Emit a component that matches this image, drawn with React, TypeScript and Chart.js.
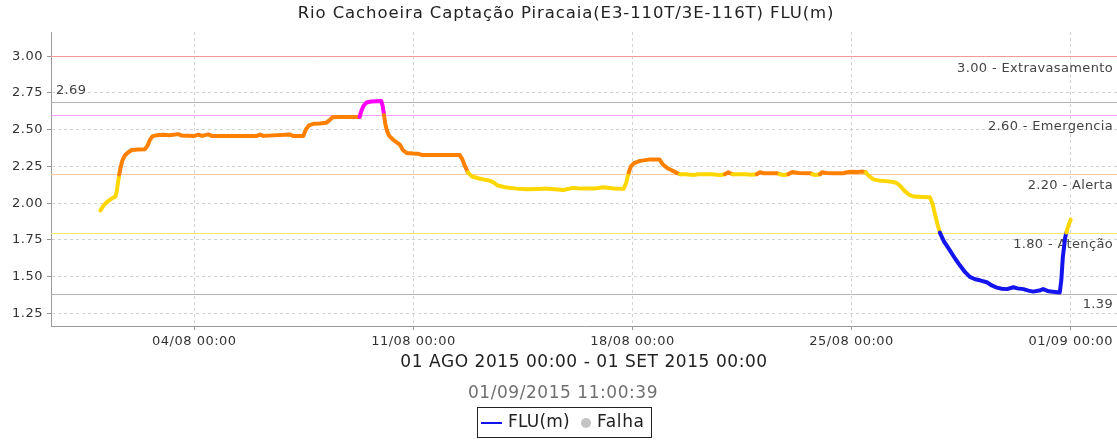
import React, { useEffect, useRef } from 'react';
import { Chart, registerables } from 'chart.js';

Chart.register(...registerables);

const FONT = '"DejaVu Sans", "Noto Sans", sans-serif';

// ---- data (days since 01/08/2015 00:00, level in m) ----
const days = [
  0.0, 0.1, 0.22, 0.35, 0.48, 0.52, 0.56, 0.6, 0.64, 0.7, 0.78, 0.88, 1.0, 1.2, 1.42, 1.5, 1.58, 1.66, 1.8, 2.0,
  2.2, 2.49, 2.6, 3.0, 3.13, 3.25, 3.45, 3.55, 4.2, 5.0, 5.1, 5.2, 6.06, 6.15, 6.48, 6.56, 6.66, 6.8, 7.0, 7.22,
  7.32, 7.42, 7.6, 8.0, 8.28, 8.34, 8.4, 8.5, 8.65, 8.83, 8.97, 9.02, 9.06, 9.1, 9.16, 9.22, 9.36, 9.5, 9.58, 9.66,
  9.78, 10.0, 10.16, 10.27, 10.6, 11.0, 11.48, 11.56, 11.64, 11.74, 11.86, 12.1, 12.45, 12.58, 12.7, 12.98, 13.3, 13.62, 14.0, 14.26,
  14.5, 14.79, 15.1, 15.4, 15.75, 16.07, 16.4, 16.72, 16.8, 16.88, 16.95, 17.05, 17.24, 17.56, 17.86, 17.98, 18.12, 18.25, 18.4, 18.52,
  18.7, 18.94, 19.1, 19.5, 19.8, 19.95, 20.01, 20.06, 20.11, 20.2, 20.6, 20.8, 20.97, 21.07, 21.2, 21.5, 21.61, 21.7, 21.85, 21.98,
  22.03, 22.1, 22.3, 22.67, 22.75, 22.85, 22.99, 23.05, 23.2, 23.4, 23.73, 23.85, 24.0, 24.2, 24.35, 24.45, 24.55, 24.7, 24.85, 25.1,
  25.33, 25.45, 25.55, 25.7, 25.85, 26.0, 26.25, 26.5, 26.58, 26.66, 26.74, 26.82, 26.95, 27.14, 27.3, 27.46, 27.62, 27.78, 27.95, 28.1,
  28.32, 28.48, 28.64, 28.8, 28.96, 29.17, 29.3, 29.49, 29.65, 29.8, 30.0, 30.12, 30.3, 30.5, 30.65, 30.7, 30.75, 30.82, 30.86, 30.93,
  31.0,
];
const levels = [
  1.95, 1.985, 2.01, 2.03, 2.045, 2.08, 2.14, 2.195, 2.24, 2.29, 2.325, 2.345, 2.362, 2.365, 2.367, 2.39, 2.43, 2.455, 2.463, 2.465,
  2.462, 2.47, 2.46, 2.458, 2.466, 2.458, 2.468, 2.458, 2.458, 2.458, 2.467, 2.458, 2.467, 2.458, 2.458, 2.5, 2.53, 2.54, 2.543, 2.548,
  2.565, 2.585, 2.587, 2.587, 2.587, 2.63, 2.66, 2.685, 2.692, 2.694, 2.696, 2.66, 2.6, 2.54, 2.49, 2.46, 2.43, 2.408, 2.395, 2.362,
  2.342, 2.338, 2.336, 2.328, 2.327, 2.327, 2.327, 2.3, 2.255, 2.21, 2.183, 2.168, 2.152, 2.138, 2.12, 2.106, 2.099, 2.095, 2.097, 2.099,
  2.095, 2.09, 2.104, 2.099, 2.099, 2.108, 2.1, 2.098, 2.14, 2.21, 2.25, 2.272, 2.288, 2.298, 2.298, 2.26, 2.238, 2.224, 2.208, 2.197,
  2.197, 2.191, 2.197, 2.197, 2.192, 2.197, 2.204, 2.21, 2.204, 2.197, 2.197, 2.193, 2.197, 2.21, 2.204, 2.204, 2.204, 2.197, 2.192, 2.197,
  2.204, 2.212, 2.205, 2.204, 2.197, 2.192, 2.197, 2.21, 2.205, 2.203, 2.204, 2.21, 2.214, 2.212, 2.215, 2.21, 2.185, 2.162, 2.155, 2.15,
  2.144, 2.136, 2.118, 2.082, 2.055, 2.045, 2.042, 2.04, 2.0, 1.93, 1.86, 1.8, 1.74, 1.679, 1.625, 1.577, 1.532, 1.498, 1.482, 1.475,
  1.462, 1.44, 1.425, 1.418, 1.415, 1.428, 1.42, 1.415, 1.405, 1.398, 1.405, 1.415, 1.4, 1.396, 1.392, 1.475, 1.634, 1.76, 1.8, 1.85,
  1.888,
];

const xTickDays = [3, 10, 17, 24, 31];
const xTickLabels = ['04/08 00:00', '11/08 00:00', '18/08 00:00', '25/08 00:00', '01/09 00:00'];
const yTicks = [1.25, 1.5, 1.75, 2.0, 2.25, 2.5, 2.75, 3.0];
const xRange = [-1.58, 32.48];
const yRange = [1.164, 3.165];

const thresholdValues = [3.0, 2.6, 2.2, 1.8];
const thresholdNames = ['Extravasamento', 'Emergencia', 'Alerta', 'Atenção'];
const thresholdLineColors = ['#f29a9a', '#ff9dff', '#ffcb9c', '#ffe96a'];
const maxLevel = 2.69;
const maxLabel = '2.69';
const minLevel = 1.385;
const minLabel = '1.39';

const titleText = 'Rio Cachoeira Captação Piracaia(E3-110T/3E-116T) FLU(m)';
const periodText = '01 AGO 2015 00:00 - 01 SET 2015 00:00';
const updatedText = '01/09/2015 11:00:39';
const seriesName = 'FLU(m)';
const failName = 'Falha';

function levelColor(v: number): string {
  if (v > 2.6) return '#ff00ff';
  if (v >= 2.2) return '#ff8000';
  if (v >= 1.8) return '#ffd700';
  return '#1414ee';
}

function spacing(ctx: any, px: number) {
  try {
    ctx.letterSpacing = `${px}px`;
  } catch (e) {
    /* ignore */
  }
}

const overlayPlugin = {
  id: 'overlay',
  beforeUpdate(chart: any) {
    spacing(chart.ctx, 0.5);
  },
  beforeDraw(chart: any) {
    spacing(chart.ctx, 0.5);
  },
  beforeDatasetsDraw(chart: any) {
    const { ctx, chartArea: a, scales } = chart;
    const y = scales.y;
    ctx.save();
    ctx.beginPath();
    ctx.rect(a.left, a.top, a.right - a.left, a.bottom - a.top);
    ctx.clip();
    const lines: { v: number; c: string }[] = thresholdValues.map((v, i) => ({ v, c: thresholdLineColors[i] }));
    lines.push({ v: maxLevel, c: '#b4b4b4' });
    lines.push({ v: minLevel, c: '#b4b4b4' });
    ctx.lineWidth = 1;
    for (const l of lines) {
      const py = Math.round(y.getPixelForValue(l.v)) + 0.5;
      ctx.strokeStyle = l.c;
      ctx.beginPath();
      ctx.moveTo(a.left, py);
      ctx.lineTo(a.right, py);
      ctx.stroke();
    }
    spacing(ctx, 0.35);
    ctx.font = `13px ${FONT}`;
    ctx.fillStyle = '#444';
    ctx.textBaseline = 'middle';
    ctx.textAlign = 'right';
    thresholdValues.forEach((v, i) => {
      ctx.fillText(`${v.toFixed(2)} - ${thresholdNames[i]}`, a.right - 4, y.getPixelForValue(v) + 12);
    });
    ctx.fillText(minLabel, a.right - 4, y.getPixelForValue(minLevel) + 11);
    ctx.textAlign = 'left';
    ctx.fillText(maxLabel, a.left + 5, y.getPixelForValue(maxLevel) - 11);
    ctx.restore();
  },
  afterDraw(chart: any) {
    const { ctx, chartArea: a } = chart;
    ctx.save();
    ctx.textBaseline = 'middle';
    ctx.textAlign = 'center';
    ctx.fillStyle = '#222';
    spacing(ctx, 0.9);
    ctx.font = `16.5px ${FONT}`;
    ctx.fillText(titleText, 566, 14);
    spacing(ctx, 0.55);
    ctx.font = `17px ${FONT}`;
    ctx.fillText(periodText, (a.left + a.right) / 2, 363);
    ctx.fillStyle = '#707070';
    ctx.fillText(updatedText, 563, 394);
    // legend box
    ctx.strokeStyle = '#222';
    ctx.lineWidth = 1;
    ctx.strokeRect(477.5, 407.5, 174, 30);
    ctx.strokeStyle = '#1414ee';
    ctx.lineWidth = 2;
    ctx.beginPath();
    ctx.moveTo(481, 423);
    ctx.lineTo(502, 423);
    ctx.stroke();
    spacing(ctx, 0.2);
    ctx.fillStyle = '#222';
    ctx.textAlign = 'left';
    ctx.fillText(seriesName, 508, 423);
    ctx.fillStyle = '#c4c4c4';
    ctx.beginPath();
    ctx.arc(586, 423, 5, 0, Math.PI * 2);
    ctx.fill();
    spacing(ctx, 0.6);
    ctx.fillStyle = '#222';
    ctx.fillText(failName, 597, 423);
    ctx.restore();
  },
};

export default function App() {
  const ref = useRef<HTMLCanvasElement | null>(null);
  useEffect(() => {
    if (!ref.current) return;
    const chart = new Chart(ref.current, {
      type: 'line',
      data: {
        datasets: [
          {
            label: seriesName,
            data: days.map((d, i) => ({ x: d, y: levels[i] })),
            borderWidth: 4,
            borderCapStyle: 'round',
            borderJoinStyle: 'round',
            pointRadius: 0,
            tension: 0,
            borderColor: '#1414ee',
            segment: {
              borderColor: (c: any) => levelColor((c.p0.parsed.y + c.p1.parsed.y) / 2),
            },
          } as any,
        ],
      },
      options: {
        animation: false,
        responsive: false,
        devicePixelRatio: 1,
        layout: { padding: { top: 32, left: 0, right: 0, bottom: 0 } },
        plugins: { legend: { display: false }, tooltip: { enabled: false }, title: { display: false } },
        scales: {
          x: {
            type: 'linear',
            min: xRange[0],
            max: xRange[1],
            afterBuildTicks: (s: any) => {
              s.ticks = xTickDays.map((v) => ({ value: v }));
            },
            afterFit: (s: any) => {
              s.height = 114;
            },
            ticks: {
              autoSkip: false,
              maxRotation: 0,
              padding: 4,
              color: '#333',
              font: { family: FONT, size: 13 },
              callback: (v: any) => {
                const i = xTickDays.indexOf(Number(v));
                return i >= 0 ? xTickLabels[i] : '';
              },
            },
            grid: { color: '#d2d2d2', tickColor: '#999', tickLength: 4 },
            border: { color: '#999', width: 1, dash: [3, 3] },
          },
          y: {
            type: 'linear',
            min: yRange[0],
            max: yRange[1],
            afterBuildTicks: (s: any) => {
              s.ticks = yTicks.map((v) => ({ value: v }));
            },
            afterFit: (s: any) => {
              s.width = 51;
            },
            ticks: {
              padding: 4,
              color: '#333',
              font: { family: FONT, size: 13 },
              callback: (v: any) => Number(v).toFixed(2),
            },
            grid: { color: '#d2d2d2', tickColor: '#999', tickLength: 4 },
            border: { color: '#999', width: 1, dash: [3, 3] },
          },
        },
      } as any,
      plugins: [overlayPlugin],
    });
    return () => chart.destroy();
  }, []);
  return (
    <div style={{ position: 'absolute', left: 0, top: 0, width: 1117, height: 440, background: '#fff' }}>
      <canvas ref={ref} width={1117} height={440} style={{ display: 'block' }} />
    </div>
  );
}
